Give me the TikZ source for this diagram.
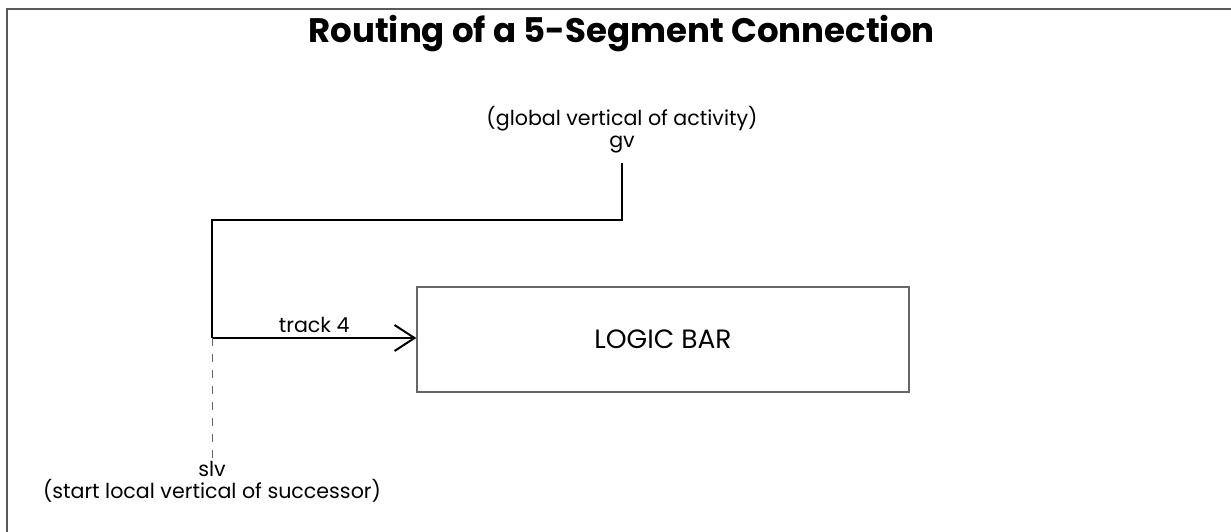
\documentclass[tikz,border=0pt]{standalone}
\usepackage{fontspec}
\setmainfont{Poppins}
\usetikzlibrary{arrows.meta}
\begin{document}
\begin{tikzpicture}[x=1pt,y=-1pt,
  frame/.style={draw=black!65,line width=1.3pt},
  conn/.style={draw=black,line width=2pt},
  guide/.style={draw=black!60,line width=1pt,dash pattern=on 8pt off 8pt},
  barbox/.style={draw=black!60,line width=1.3pt,minimum width=492pt,minimum height=105pt,inner sep=0pt,font=\fontsize{26.5}{30}\selectfont},
  lbl/.style={font=\fontsize{20.6}{22}\selectfont,inner sep=0pt,align=center},
  ttl/.style={font=\fontsize{34}{40}\selectfont\bfseries,inner sep=0pt,anchor=base}]
\useasboundingbox (0,0) rectangle (1231,531);
\draw[frame] (7,540) -- (7,9) -- (1240,9);
\node[ttl] (title) at (621.5,42) {Routing of a 5-Segment Connection};
\node[lbl,anchor=base] (gvl) at (622,147) {(global vertical of activity)\\gv};
\coordinate (gvtop) at (622,163);
\coordinate (turn) at (212,220);
\coordinate (slvpt) at (212,338);
\coordinate (slvend) at (212,467);
\node[barbox] (bar) at (663,339.5) {LOGIC BAR};
\draw[conn] (gvtop) |- (turn) -- (slvpt);
\draw[conn,-{Straight Barb[length=20pt,width=26pt,line width=2pt]}] (slvpt) -- (bar.west |- slvpt)
  node[midway,anchor=base,yshift=6pt,lbl] (trk) {track 4};
\draw[guide] (slvpt) -- (slvend);
\node[lbl,anchor=base] (slvl) at (212,498) {slv\\(start local vertical of successor)};
\end{tikzpicture}
\end{document}
